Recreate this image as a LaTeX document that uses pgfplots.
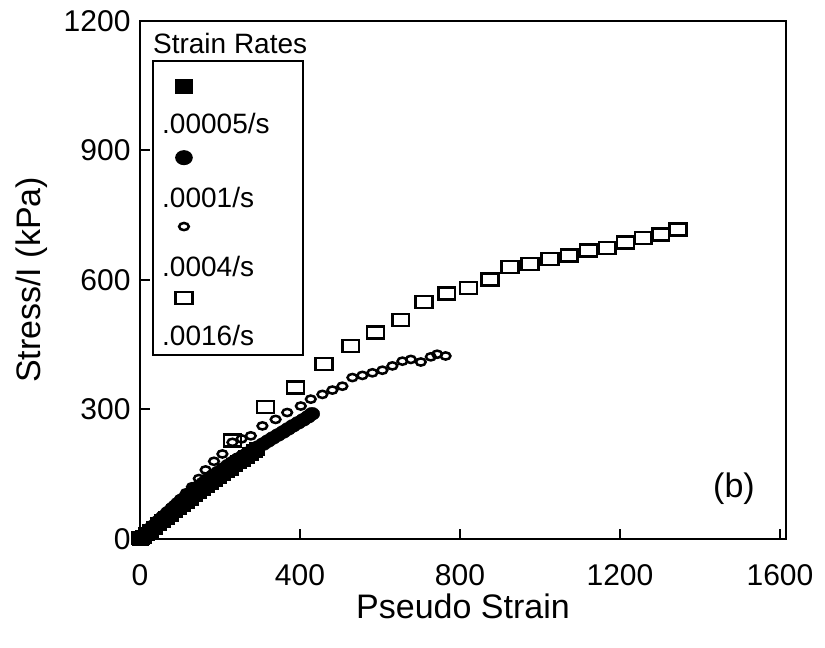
\documentclass[border=0pt]{standalone}
\usepackage{pgfplots}
\pgfplotsset{compat=1.18}
\usepackage{fontspec}
\setmainfont{Liberation Sans}
\pgfplotsset{legimg/.style={legend image code/.code={\path (0pt,0pt); \draw[overlay,##1] plot coordinates {(25pt,#1)};}}}
\begin{document}
\begin{tikzpicture}
\begin{axis}[
 at={(0,0)}, anchor=south west,
 width=646pt, height=518pt, scale only axis,
 xmin=0, xmax=1615, ymin=0, ymax=1200,
 xtick={0,400,800,1200,1600}, ytick={0,300,600,900,1200},
 tick align=inside, xtick pos=left, ytick pos=left,
 major tick length=10pt,
 every tick/.style={black, line width=2pt},
 axis line style={line width=2.5pt},
 /pgf/number format/assume math mode=true,
 /pgf/number format/1000 sep={},
 tick label style={font=\fontsize{30}{32}\selectfont},
 xticklabel style={yshift=-22pt},
 yticklabel style={xshift=-6pt},
 xlabel={Pseudo Strain},
 ylabel={Stress/I (kPa)},
 label style={font=\fontsize{34}{36}\selectfont},
 xlabel style={at={([yshift=-79pt]axis description cs:0.5,0)}, anchor=base},
 ylabel style={at={([xshift=-99pt]axis description cs:0,0.5)}, anchor=base},
 legend style={at={(rel axis cs:0.0186,0.9247)}, anchor=north west, draw=black, line width=2pt,
   inner xsep=4.7pt, inner ysep=5.5pt, row sep=3.4pt, font=\fontsize{28}{30}\selectfont},
 legend cell align=left,
]
\addplot[only marks, mark=square*, mark size=6.5pt, black, mark options={xscale=1.2}, legimg=15pt] coordinates {
(0,0)(8,6)(16,12)(25,19)(35,27)(45,35)(55,42)(65,50)(75,57)(85,65)(95,72)(105,80)(115,87)(125,94)(135,102)(145,109)(155,116)(165,123)(175,130)(185,137)(195,144)(205,151)(215,158)(225,164)(235,171)(245,178)(255,184)(265,191)(275,197)(285,204)(292,209)
};
\addlegendentry{\rule{0pt}{64.5pt}.00005/s\hspace*{27pt}\mbox{}}
\addplot[only marks, mark=*, mark size=6.5pt, black, mark options={xscale=1.2}, legimg=18pt] coordinates {
(0,0)(10,9)(20,18)(32,29)(45,40)(58,51)(70,61)(82,71)(95,82)(108,92)(120,101)(132,111)(145,120)(158,129)(170,138)(182,146)(195,154)(208,162)(220,170)(232,177)(245,185)(258,192)(270,199)(282,206)(295,213)(308,220)(320,227)(332,234)(345,241)(358,248)(370,255)(382,262)(395,269)(408,276)(420,283)(430,290)
};
\addlegendentry{\rule{0pt}{66pt}.0001/s}
\addplot[only marks, mark=o, mark size=3.6pt, black, line width=2.5pt, mark options={xscale=1.35, fill=white}, legimg=21pt] coordinates {
(0,0)(12,11)(25,23)(40,37)(55,51)(70,65)(85,79)(100,93)(115,107)(130,121)(147,140)(164,160)(185,180)(206,197)(231,224)(254,232)(277,239)(306,262)(339,277)(368,293)(402,308)(427,324)(456,335)(481,345)(506,354)(531,374)(556,379)(581,385)(606,391)(631,401)(656,412)(677,416)(702,410)(727,422)(743,428)(764,424)
};
\addlegendentry{\rule{0pt}{60pt}.0004/s}
\addplot[only marks, mark=square, mark size=6pt, black, line width=2.5pt, mark options={xscale=1.4, fill=white, rounded corners=1.5pt}, legimg=18.5pt] coordinates {
(2,2)(231,228)(314,306)(389,351)(460,405)(527,447)(589,478)(652,507)(710,549)(767,569)(821,582)(875,601)(925,630)(975,637)(1025,649)(1073,657)(1121,668)(1168,674)(1214,687)(1258,697)(1302,705)(1345,717)
};
\addlegendentry{\rule[-17pt]{0pt}{77pt}.0016/s}
\node[anchor=base west, font=\fontsize{28}{30}\selectfont, inner sep=0pt] at (rel axis cs:0.02,0.938) {Strain Rates};
\node[font=\fontsize{34}{36}\selectfont] at (axis cs:1485,116) {(b)};
\end{axis}
\pgfresetboundingbox
\path[use as bounding box] (-140pt,-109pt) rectangle (685pt,539pt);
\end{tikzpicture}
\end{document}
